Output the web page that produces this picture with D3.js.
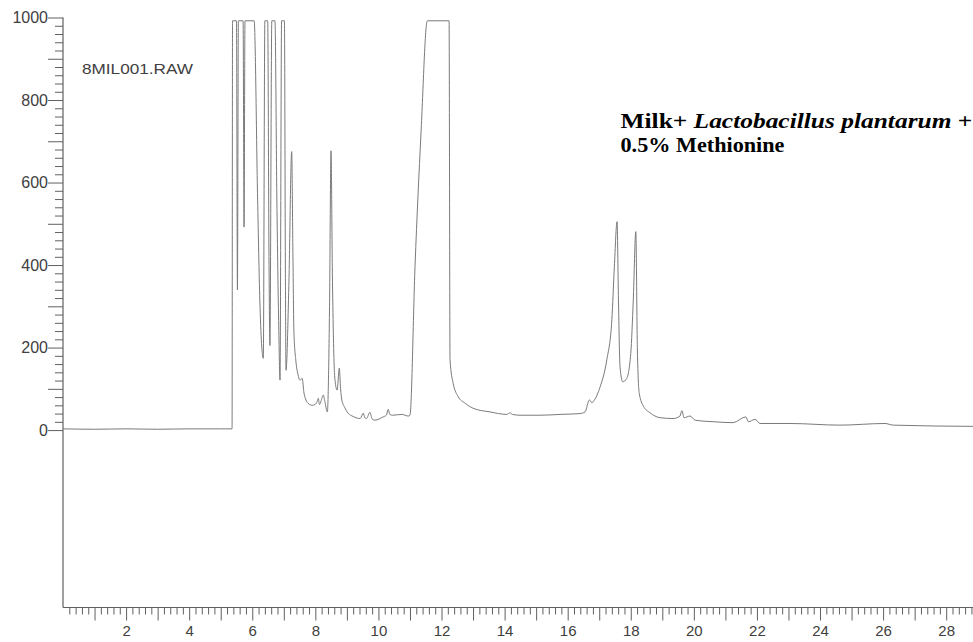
<!DOCTYPE html>
<html>
<head>
<meta charset="utf-8">
<script src="https://cdn.jsdelivr.net/npm/d3@7/dist/d3.min.js"></script>
<style>
  html, body { margin: 0; padding: 0; background: #ffffff; }
  svg { display: block; }
</style>
</head>
<body>
<svg id="chart" width="973" height="642"></svg>
<script>
// Retention time (min) of each sampled point of the trace
const retentionTime = [
  0.0, 1.0, 2.0, 3.0, 4.0, 5.0, 5.36, 5.375, 5.5, 5.53, 5.56, 5.71, 5.74, 5.77,
  6.06, 6.17, 6.24, 6.35, 6.40, 6.49, 6.53, 6.56, 6.62, 6.72, 6.78, 6.84, 6.88,
  6.93, 7.02, 7.05, 7.07, 7.16, 7.25, 7.29, 7.32, 7.38, 7.45, 7.51, 7.585, 7.64,
  7.77, 7.90, 7.99, 8.06, 8.094, 8.13, 8.18, 8.253, 8.30, 8.38, 8.45, 8.497, 8.54,
  8.60, 8.624, 8.69, 8.76, 8.80, 8.84, 8.93, 9.04, 9.20, 9.42, 9.52, 9.57, 9.62,
  9.73, 9.80, 9.89, 10.15, 10.25, 10.31, 10.36, 10.45, 10.74, 10.95, 11.00, 11.16,
  11.35, 11.55, 12.24, 12.27, 12.37, 12.53, 12.75, 13.00, 13.54, 14.07, 14.17,
  14.25, 14.49, 15.12, 15.76, 16.39, 16.55, 16.69, 16.77, 16.81, 17.03, 17.24,
  17.40, 17.48, 17.565, 17.61, 17.66, 17.745, 17.87, 18.00, 18.08, 18.16, 18.21,
  18.27, 18.40, 18.61, 18.93, 19.34, 19.56, 19.62, 19.69, 19.88, 20.04, 20.67,
  21.24, 21.65, 21.73, 21.94, 22.10, 23.05, 24.63, 26.06, 26.32, 28.85
];

// Detector signal at each retention time (992 = detector saturation)
const signal = [
  3, 2, 3, 2, 3, 3, 3, 992, 992, 340, 992, 992, 492, 992,
  992, 560, 315, 174, 992, 992, 420, 205, 992, 992, 560, 250, 121,
  992, 992, 400, 145, 350, 675, 420, 240, 170, 135, 121, 125, 90,
  65, 60, 62, 70, 77, 62, 70, 85, 70, 44, 300, 677, 380,
  150, 121, 97, 150, 100, 73, 55, 41, 33, 28, 41, 30, 28,
  43, 27, 24, 32, 36, 50, 38, 36, 38, 34, 36, 396,
  720, 992, 992, 170, 113, 81, 65, 53, 44, 38, 42,
  38, 36, 36, 38, 40, 44, 73, 66, 69, 105, 170,
  267, 396, 505, 315, 153, 117, 125, 186, 315, 481, 194,
  89, 58, 42, 30, 28, 34, 47, 30, 34, 24, 20,
  18, 32, 20, 26, 16, 16, 12, 16, 12, 9
];

// Axis tick values and labels
const xTickValues = d3.range(1, 145).map(i => i / 5);
const xTickLabels = [2, 4, 6, 8, 10, 12, 14, 16, 18, 20, 22, 24, 26, 28];
const yTickValues = d3.range(0, 51).map(i => i * 20);
const yTickLabels = [0, 200, 400, 600, 800, 1000];

const fileLabel = "8MIL001.RAW";

const svg = d3.select("#chart");
const axisColor = "#606060";
const labelColor = "#404040";

const x = d3.scaleLinear().domain([0, 28.85]).range([63, 973]);
const y = d3.scaleLinear().domain([-430, 1000]).range([607.5, 17.5]);

// ---- x axis ----
const xAxis = d3.axisBottom(x)
  .tickValues(xTickValues)
  .tickSize(6)
  .tickFormat(d => xTickLabels.includes(d) ? d : "");

const gx = svg.append("g")
  .attr("transform", `translate(0,${y(-430)})`)
  .call(xAxis);
gx.select(".domain").remove();
gx.selectAll(".tick line")
  .attr("stroke", axisColor)
  .attr("stroke-width", 1)
  .attr("y2", d => Number.isInteger(d) ? 13 : 7);
gx.selectAll(".tick text")
  .attr("y", 18)
  .attr("fill", labelColor)
  .style("font-family", "'Liberation Sans', Arial, sans-serif")
  .style("font-size", "15px");

svg.append("line")
  .attr("x1", x(0)).attr("x2", x(28.85))
  .attr("y1", y(-430)).attr("y2", y(-430))
  .attr("stroke", axisColor).attr("stroke-width", 1.2);

// ---- y axis ----
const yAxis = d3.axisLeft(y)
  .tickValues(yTickValues)
  .tickSize(8)
  .tickFormat(d => yTickLabels.includes(d) ? d : "");

const gy = svg.append("g")
  .attr("transform", `translate(${x(0)},0)`)
  .call(yAxis);
gy.select(".domain").remove();
gy.selectAll(".tick line")
  .attr("stroke", axisColor)
  .attr("stroke-width", 1)
  .attr("x2", d => d % 100 === 0 ? -15 : -8);
gy.selectAll(".tick text")
  .attr("x", -15)
  .attr("fill", labelColor)
  .style("font-family", "'Liberation Sans', Arial, sans-serif")
  .style("font-size", "16px");

svg.append("line")
  .attr("x1", x(0)).attr("x2", x(0))
  .attr("y1", y(1000)).attr("y2", y(-430))
  .attr("stroke", axisColor).attr("stroke-width", 1.2);

// ---- chromatogram trace ----
const points = retentionTime.map((t, i) => [t, signal[i]]);
const line = d3.line()
  .x(d => x(d[0]))
  .y(d => y(d[1]))
  .curve(d3.curveMonotoneX);

svg.append("path")
  .datum(points)
  .attr("d", line)
  .attr("fill", "none")
  .attr("stroke", "#7a7a7a")
  .attr("stroke-width", 1)
  .attr("stroke-linejoin", "round");

// ---- text labels, stretched horizontally to their set widths ----
function fitWidth(sel, left, baseline, width) {
  const w = sel.node().getComputedTextLength();
  sel.attr("transform", `translate(${left},${baseline}) scale(${width / w},1)`);
}

const raw = svg.append("text")
  .attr("fill", labelColor)
  .style("font-family", "'Liberation Sans', Arial, sans-serif")
  .style("font-size", "14.5px")
  .text(fileLabel);
fitWidth(raw, 82, 74, 111);

const title1 = svg.append("text")
  .attr("fill", "#000")
  .style("font-family", "'Liberation Serif', 'Times New Roman', serif")
  .style("font-weight", "bold")
  .style("font-size", "21px");
title1.append("tspan").text("Milk+ ");
title1.append("tspan").style("font-style", "italic").text("Lactobacillus plantarum");
title1.append("tspan").text(" +");
fitWidth(title1, 620.5, 127.5, 352);

const title2 = svg.append("text")
  .attr("fill", "#000")
  .style("font-family", "'Liberation Serif', 'Times New Roman', serif")
  .style("font-weight", "bold")
  .style("font-size", "21px")
  .text("0.5% Methionine");
fitWidth(title2, 620.5, 152, 164);
</script>
</body>
</html>
